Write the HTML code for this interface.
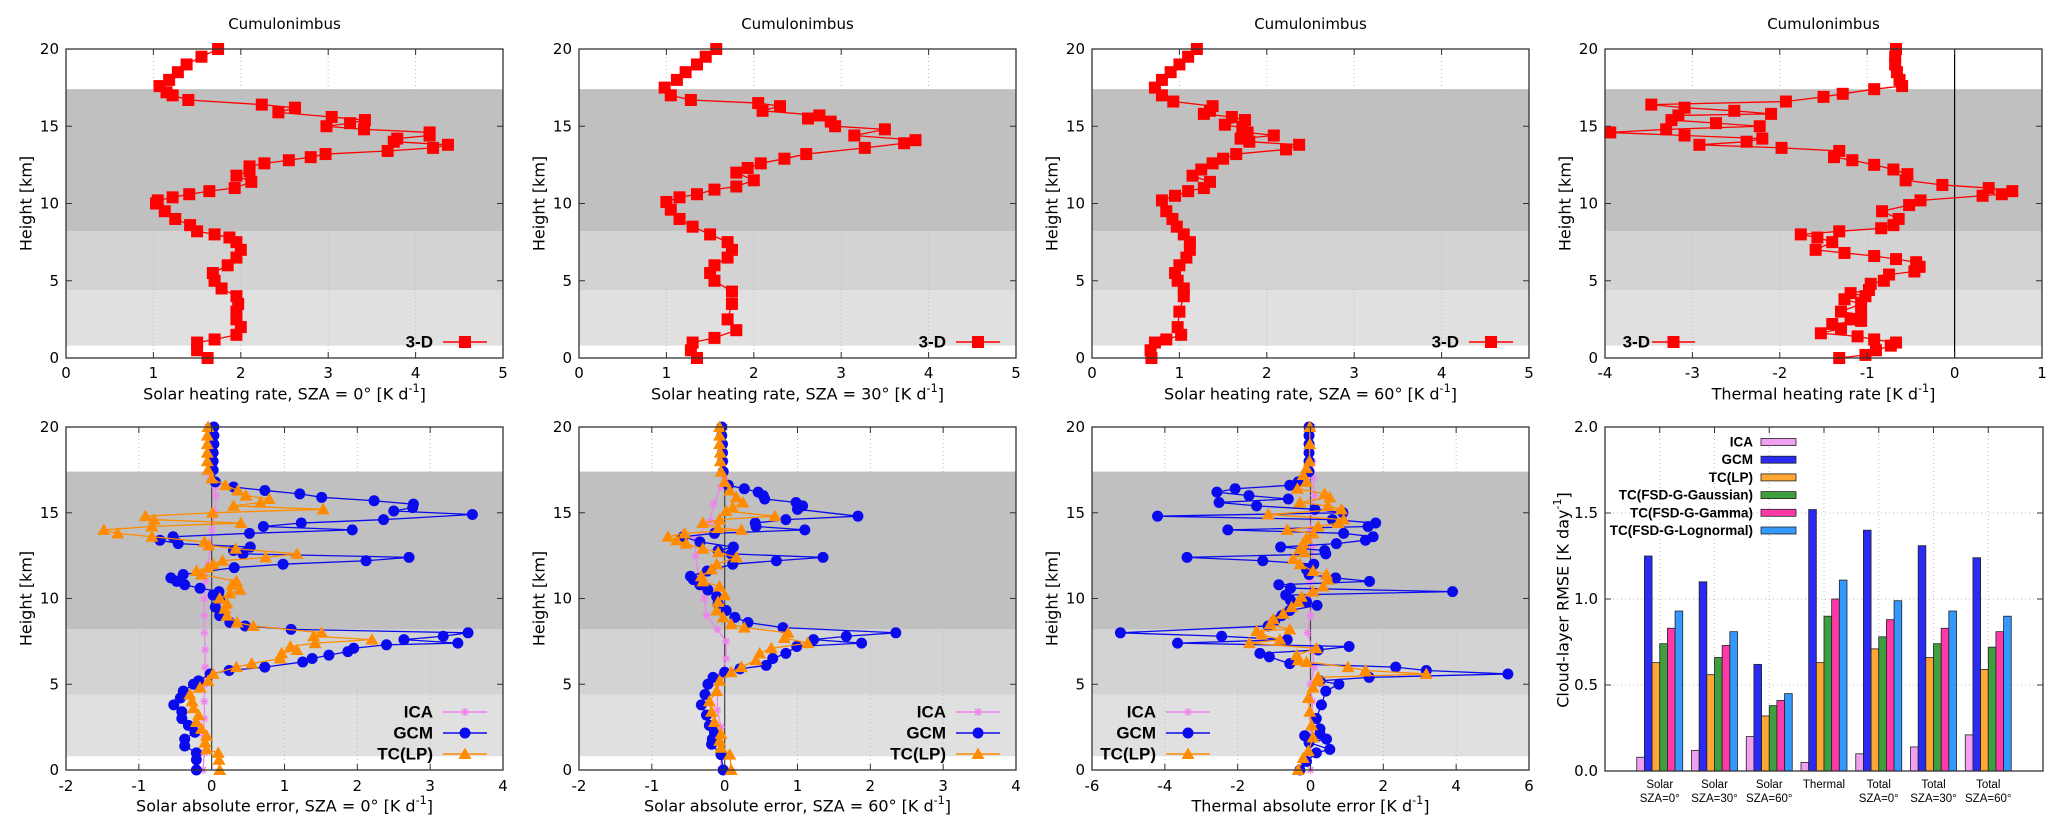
<!DOCTYPE html>
<html><head><meta charset="utf-8"><style>
html,body{margin:0;padding:0;background:#fff}
svg{display:block}
text{font-family:"DejaVu Sans","Liberation Sans",sans-serif;fill:#000}
.leg{font-family:"Liberation Sans",sans-serif;font-weight:bold}
.cat{font-family:"Liberation Sans",sans-serif}
</style></head><body>
<svg id="fig" xmlns="http://www.w3.org/2000/svg" width="2067" height="828" viewBox="0 0 2067 828"></svg>
<script>
// ---------- data ----------
const solar0H=[20,19.5,19,18.5,18,17.6,17.2,17,16.7,16.4,16.2,15.9,15.6,15.4,15.2,15,14.8,14.6,14.4,14.2,14,13.8,13.6,13.4,13.2,13,12.8,12.6,12.4,12.1,11.8,11.4,11,10.8,10.6,10.4,10.2,10,9.5,9,8.6,8.2,8,7.8,7.5,7,6.5,6,5.5,5,4.5,4,3.5,3,2.5,2,1.5,1.2,1,0.5,0];
const solar0X=[1.74,1.55,1.38,1.28,1.18,1.07,1.15,1.22,1.4,2.24,2.62,2.43,3.04,3.42,3.25,2.98,3.41,4.16,4.16,3.79,3.75,4.37,4.2,3.68,2.97,2.8,2.55,2.27,2.1,2.1,1.95,2.12,1.93,1.64,1.41,1.22,1.05,1.03,1.13,1.25,1.42,1.5,1.7,1.87,1.95,2.0,1.95,1.85,1.68,1.7,1.78,1.95,1.97,1.95,1.95,2.0,1.95,1.7,1.5,1.5,1.62];
const solar30H=[20,19.5,19,18.5,18,17.5,17,16.7,16.5,16.3,16,15.7,15.5,15.3,15,14.8,14.4,14.1,13.9,13.6,13.2,12.9,12.6,12.3,12,11.5,11.1,10.9,10.6,10.4,10.1,9.6,9,8.5,8,7.5,7,6.5,6,5.5,5,4.3,3.5,2.5,1.8,1.3,1,0.5,0];
const solar30X=[1.57,1.45,1.35,1.22,1.12,0.98,1.05,1.28,2.05,2.3,2.1,2.75,2.62,2.88,2.93,3.5,3.15,3.85,3.72,3.27,2.6,2.35,2.08,1.93,1.8,2.0,1.8,1.55,1.35,1.15,1.0,1.05,1.15,1.3,1.5,1.7,1.75,1.7,1.55,1.5,1.55,1.75,1.75,1.7,1.8,1.55,1.3,1.28,1.35];
const solar60H=[20,19.5,19,18.5,18,17.5,17,16.6,16.3,16,15.8,15.6,15.4,15.1,14.9,14.6,14.4,14.2,14,13.8,13.5,13.2,12.9,12.6,12.2,11.8,11.4,11,10.8,10.5,10.2,9.5,9,8.5,8,7.5,7,6.5,6,5.5,5,4.5,4,3,2,1.5,1.2,1,0.5,0];
const solar60X=[1.2,1.1,1.0,0.9,0.8,0.72,0.8,0.93,1.38,1.35,1.28,1.6,1.75,1.52,1.72,1.78,2.08,1.7,1.8,2.37,2.22,1.65,1.5,1.38,1.25,1.15,1.35,1.28,1.1,0.95,0.8,0.85,0.92,0.97,1.05,1.12,1.12,1.08,1.0,0.95,0.98,1.05,1.05,1.0,0.98,1.02,0.85,0.72,0.67,0.68];
const thermalH=[20,19.5,19,18.5,18,17.6,17.4,17.1,16.9,16.6,16.4,16.2,16,15.8,15.7,15.4,15.2,15,14.8,14.6,14.4,14.2,14,13.8,13.6,13.4,13,12.8,12.5,12.2,11.9,11.5,11.2,11,10.8,10.6,10.5,10.2,9.9,9.5,9,8.6,8.4,8.2,8,7.8,7.5,7,6.8,6.6,6.4,6.2,5.9,5.6,5.4,5,4.8,4.4,4.2,4,3.8,3.5,3,2.8,2.5,2.4,2.2,1.9,1.6,1.4,1.2,1,0.8,0.5,0.2,0];
const thermalX=[-0.67,-0.68,-0.68,-0.66,-0.63,-0.6,-0.92,-1.28,-1.5,-1.93,-3.47,-3.09,-2.52,-2.1,-3.16,-3.24,-2.73,-2.23,-3.3,-3.94,-3.09,-2.2,-2.38,-2.92,-1.98,-1.32,-1.38,-1.17,-0.92,-0.7,-0.54,-0.56,-0.14,0.39,0.66,0.54,0.32,-0.39,-0.52,-0.83,-0.64,-0.7,-0.84,-1.32,-1.76,-1.57,-1.4,-1.59,-1.26,-0.92,-0.67,-0.44,-0.4,-0.46,-0.75,-0.81,-0.96,-0.98,-1.19,-1.02,-1.26,-1.07,-1.3,-1.07,-1.19,-1.07,-1.4,-1.3,-1.53,-1.11,-0.92,-0.67,-0.73,-0.9,-1.02,-1.32];

const ica0H=[20,18,17,16.5,16,15,14,13,12,11,10,9,8,7,6,5,4,3,2,1,0];
const ica0X=[-0.05,-0.05,-0.02,0.05,0.06,0.05,0.0,-0.02,-0.05,-0.08,-0.1,-0.1,-0.1,-0.09,-0.09,-0.1,-0.1,-0.1,-0.11,-0.1,-0.12];
const gcm0H=[20,19.5,19,18.5,18,17.5,16.8,16.5,16.3,16.1,15.9,15.7,15.5,15.3,15.1,14.9,14.6,14.4,14.2,14,13.8,13.6,13.4,13.2,13,12.8,12.6,12.4,12.2,12,11.8,11.4,11.2,11,10.8,10.6,10.4,10.2,10,9.5,9,8.6,8.4,8.2,8,7.8,7.6,7.4,7.3,7.1,6.9,6.7,6.5,6.3,6,5.8,5.6,5.2,5,4.6,4.2,3.8,3.4,3,2.6,2.2,1.8,1.4,1,0.6,0];
const gcm0X=[0.03,0.03,0.03,0.02,0.02,0.02,0.05,0.3,0.73,1.21,1.51,2.23,2.77,2.76,2.5,3.58,2.36,1.23,0.71,1.93,0.52,-0.53,-0.71,-0.46,0.53,0.3,0.43,2.71,2.12,0.98,0.31,-0.39,-0.56,-0.48,-0.37,-0.16,0.1,0.02,0.11,0.05,0.11,0.25,0.46,1.09,3.52,3.18,2.64,3.38,2.4,1.95,1.87,1.61,1.38,1.25,0.73,0.24,-0.02,-0.18,-0.25,-0.39,-0.43,-0.52,-0.41,-0.41,-0.32,-0.23,-0.37,-0.37,-0.21,-0.21,-0.21];
const tc0H=[20,19.5,19,18.5,18,17.5,17,16.6,16.3,16,15.8,15.6,15.4,15.2,15,14.8,14.6,14.4,14.2,14,13.8,13.6,13.3,13.1,12.9,12.6,12.4,12.2,12,11.8,11.6,11.4,11,10.8,10.5,10.3,10,9.7,9.4,9,8.6,8.4,8,7.8,7.6,7.4,7.2,7,6.8,6.5,6.2,6,5.6,5.2,4.8,4.4,4,3.6,3.2,2.8,2.4,2,1.6,1.2,1,0.6,0];
const tc0X=[-0.05,-0.06,-0.06,-0.06,-0.06,-0.05,0.0,0.19,0.36,0.47,0.79,0.67,0.3,1.53,0.01,-0.91,-0.79,0.4,-0.82,-1.48,-1.29,-0.82,-0.1,-0.04,0.33,1.17,0.74,0.15,0.02,-0.05,-0.21,-0.14,0.34,0.28,0.39,0.25,0.11,0.21,0.18,0.21,0.35,0.57,1.51,1.4,2.2,1.42,1.08,1.17,0.96,0.94,0.55,0.34,0.02,-0.05,-0.16,-0.3,-0.27,-0.25,-0.18,-0.21,-0.14,-0.07,-0.09,-0.07,0.09,0.1,0.11];

const ica60H=[20,18,17,16.5,15.5,14.5,13.5,12.5,11,10,9,8.2,7.5,6.5,5.5,4.5,3.5,2.5,1.5,0];
const ica60X=[0.0,0.0,0.0,-0.05,-0.15,-0.2,-0.4,-0.4,-0.35,-0.28,-0.25,-0.1,0.02,0.02,-0.05,-0.1,-0.1,-0.05,-0.05,-0.05];
const gcm60H=[20,19.5,19,18.5,18,17.4,16.6,16.4,16.2,16,15.8,15.6,15.4,15.2,14.8,14.6,14.4,14.2,14,13.8,13.6,13.3,13,12.8,12.6,12.4,12.2,12,11.6,11.3,11.1,10.8,10.5,10.1,9.7,9.3,8.9,8.6,8.3,8,7.8,7.6,7.4,7.2,6.8,6.5,6.1,5.9,5.7,5.4,5,4.4,3.8,3.2,2.6,2.2,1.8,1.5,0.9,0];
const gcm60X=[-0.04,-0.04,-0.03,-0.03,-0.03,-0.02,0.05,0.27,0.46,0.53,0.55,0.98,1.07,1.0,1.83,0.84,0.42,0.43,1.1,-0.14,-0.57,-0.34,0.12,-0.09,0.09,1.35,0.71,0.11,-0.24,-0.47,-0.43,-0.34,-0.23,-0.11,-0.09,0.02,0.14,0.32,0.8,2.35,1.67,1.22,1.88,0.99,0.84,0.66,0.57,0.21,0.0,-0.16,-0.23,-0.27,-0.32,-0.25,-0.21,-0.14,-0.17,-0.18,-0.05,-0.02];
const tc60H=[20,19.5,19,18.5,18,17.4,16.8,16.3,15.9,15.6,15.3,15.1,14.8,14.6,14.4,14.1,14,13.8,13.6,13.4,13.2,12.9,12.7,12.4,12,11.7,11.3,11,10.7,10.2,9.8,9.3,8.9,8.5,8.3,8,7.7,7.4,7.1,6.8,6.4,6,5.7,5.2,4.6,4,3.4,2.8,2.1,1.7,1.3,0.9,0];
const tc60X=[-0.07,-0.07,-0.07,-0.06,-0.06,-0.05,0.0,0.07,0.16,0.25,0.11,0.02,0.69,-0.07,-0.3,-0.09,0.23,-0.55,-0.78,-0.66,-0.53,-0.3,-0.09,0.16,-0.11,-0.18,-0.32,-0.3,-0.07,0.0,-0.09,-0.11,-0.02,0.09,0.27,0.87,0.82,1.14,0.64,0.48,0.43,0.23,0.09,-0.07,-0.11,-0.21,-0.18,-0.14,-0.05,-0.07,-0.05,0.07,0.09];

const icaThH=[20,18,17,16,15,14,13,12,11,10,9,8,7,6,5,4,3,2,1,0];
const icaThX=[0.05,0.05,0.08,0.1,0.05,0.0,0.05,0.08,0.0,-0.05,0.0,-0.08,0.05,0.1,0.0,0.05,0.05,0.0,0.0,0.0];
const gcmThH=[20,19.5,19,18.5,18,17.4,16.8,16.6,16.4,16.2,16,15.8,15.6,15.4,15.2,15,14.8,14.6,14.4,14.2,14,13.8,13.6,13.4,13.2,13,12.8,12.6,12.4,12.2,12,11.7,11.4,11.2,11,10.8,10.6,10.4,10.2,9.9,9.8,9.6,9.3,9,8.7,8.4,8,7.8,7.6,7.4,7.2,7,6.8,6.6,6.2,6,5.8,5.6,5.4,5.2,5,4.6,3.8,3,2.4,2.1,2,1.8,1.6,1.2,1,0.5,0];
const gcmThX=[-0.04,-0.04,-0.04,-0.04,-0.04,-0.04,-0.34,-0.57,-2.07,-2.57,-1.69,-0.61,-2.51,-1.48,0.12,0.89,-4.2,0.6,1.79,1.58,-2.27,0.91,1.72,1.51,0.71,-0.82,0.39,0.42,-3.39,-1.31,0.09,-0.11,-0.04,0.69,1.62,-0.87,-0.55,3.9,-0.68,-0.55,-0.11,0.18,-0.57,-0.79,-0.98,-1.16,-5.22,-2.44,-0.64,-3.65,1.06,0.21,-1.39,-1.13,-0.57,2.34,3.18,5.42,1.61,0.26,0.78,0.42,0.3,0.16,0.26,0.26,-0.16,0.44,-0.04,0.53,0.16,-0.11,-0.29];
const tcThH=[20,19,18,17.6,17.2,16.8,16.4,16.1,15.9,15.6,15.4,15.2,14.9,14.6,14.4,14.2,14,13.8,13.5,13.2,12.9,12.7,12.3,12,11.6,11.4,11.1,10.7,10.4,10.1,9.8,9.5,9.1,8.8,8.5,8.2,8.1,7.9,7.6,7.4,7.1,6.7,6.4,6.3,6,5.8,5.6,5.4,5.2,4.8,4.2,3.4,2.6,1.9,1.1,0.7,0];
const tcThX=[-0.02,-0.02,-0.03,-0.11,-0.2,-0.11,-0.36,0.39,0.53,-0.29,0.48,0.85,-1.16,0.91,0.76,0.21,-0.64,0.07,-0.11,-0.2,-0.29,-0.16,-0.47,-0.29,0.07,0.44,0.48,0.35,0.07,-0.25,-0.34,-0.52,-0.75,-1.02,-1.11,-0.57,-1.48,-1.34,-0.84,-1.68,0.16,-0.38,-0.34,-0.11,1.03,1.51,3.18,0.21,0.21,0.07,-0.06,-0.02,0.03,0.07,-0.06,-0.2,-0.34];

// bar chart
const barCategories=[["Solar","SZA=0°"],["Solar","SZA=30°"],["Solar","SZA=60°"],["Thermal",""],["Total","SZA=0°"],["Total","SZA=30°"],["Total","SZA=60°"]];
const barSeriesNames=["ICA","GCM","TC(LP)","TC(FSD-G-Gaussian)","TC(FSD-G-Gamma)","TC(FSD-G-Lognormal)"];
const rmseICA=[0.08,0.12,0.20,0.05,0.10,0.14,0.21];
const rmseGCM=[1.25,1.10,0.62,1.52,1.40,1.31,1.24];
const rmseTCLP=[0.63,0.56,0.32,0.63,0.71,0.66,0.59];
const rmseGauss=[0.74,0.66,0.38,0.90,0.78,0.74,0.72];
const rmseGamma=[0.83,0.73,0.41,1.00,0.88,0.83,0.81];
const rmseLogn=[0.93,0.81,0.45,1.11,0.99,0.93,0.90];
const barYTicks=[0,0.5,1.0,1.5,2.0];

// ---------- drawing ----------
const NS="http://www.w3.org/2000/svg";
const svg=document.getElementById('fig');
function mk(tag,attrs,parent){const e=document.createElementNS(NS,tag);for(const k in attrs)e.setAttribute(k,attrs[k]);(parent||svg).appendChild(e);return e;}
function txt(x,y,s,size,anchor,parent,cls){const t=mk('text',{x:x,y:y,'font-size':size,'text-anchor':anchor||'middle','dominant-baseline':'central'},parent);if(cls)t.setAttribute('class',cls);t.textContent=s;return t;}
function unitTitle(x,y,pre,size,parent){
  const t=mk('text',{x:x,y:y,'font-size':size,'text-anchor':'middle','dominant-baseline':'central'},parent);
  t.appendChild(document.createTextNode(pre+' [K d'));
  const s=mk('tspan',{dy:-6,'font-size':size*0.7},t);s.textContent='-1';
  const e=mk('tspan',{dy:6},t);e.textContent=']';
  return t;
}
const lefts=[66,579,1092,1605], W=437;
const TOP={y20:49,y0:358,tick:373,title:394}, BOT={y20:427,y0:770,tick:786,title:806};

function panel(i,row,xmin,xmax,xticks,name){
  const g=mk('g',{});
  
  
  const L=lefts[i], R=L+W, y20=row.y20, y0=row.y0;
  const xs=v=>L+(v-xmin)/(xmax-xmin)*W;
  const ys=h=>y0-h/20*(y0-y20);
  const bands=[[17.4,8.2,'#c0c0c0'],[8.2,4.4,'#d3d3d3'],[4.4,0.8,'#e0e0e0']];
  bands.forEach(b=>{const r=mk('rect',{x:L,y:ys(b[0]),width:W,height:ys(b[1])-ys(b[0]),fill:b[2]},g);
    });
  xticks.forEach(v=>{ if(v>xmin&&v<xmax) mk('line',{x1:xs(v),x2:xs(v),y1:y20,y2:y0,stroke:'#bbb','stroke-width':1,'stroke-dasharray':'1,3'},g);});
  return {g,L,R,y20,y0,xs,ys};
}
function frame(p,xticks,yticks,ylabelFmt,row){
  const g=p.g;
  const fr=mk('rect',{x:p.L,y:p.y20,width:W,height:p.y0-p.y20,fill:'none',stroke:'#333','stroke-width':1.3},g);
  
  xticks.forEach(v=>{const x=p.xs(v);
    mk('line',{x1:x,x2:x,y1:p.y0,y2:p.y0-6,stroke:'#333'},g);mk('line',{x1:x,x2:x,y1:p.y20,y2:p.y20+6,stroke:'#333'},g);
    const t=txt(x,row.tick,String(v),15,'middle',g);});
  yticks.forEach(v=>{const y=p.ys(v);
    mk('line',{x1:p.L,x2:p.L+6,y1:y,y2:y,stroke:'#333'},g);mk('line',{x1:p.R,x2:p.R-6,y1:y,y2:y,stroke:'#333'},g);
    const t=txt(p.L-7,y,ylabelFmt(v),15,'end',g);});
}
function marker(g,type,x,y,color){
  let m;
  if(type==='square') m=mk('rect',{x:x-6,y:y-6,width:12,height:12,fill:color},g);
  else if(type==='circle') m=mk('circle',{cx:x,cy:y,r:5.5,fill:color},g);
  else if(type==='tri') m=mk('polygon',{points:`${x},${y-6.5} ${x+6.5},${y+5} ${x-6.5},${y+5}`,fill:color},g);
  else { m=mk('path',{d:`M${x-4},${y}H${x+4}M${x},${y-4}V${y+4}M${x-3},${y-3}L${x+3},${y+3}M${x-3},${y+3}L${x+3},${y-3}`,stroke:color,'stroke-width':1.3,fill:'none'},g);}
  return m;
}
function series(p,H,X,color,type,name){
  const g=mk('g',{},p.g);
  
  
  const pts=H.map((h,k)=>p.xs(X[k])+','+p.ys(h)).join(' ');
  mk('polyline',{points:pts,fill:'none',stroke:color,'stroke-width':1.3},g);
  H.forEach((h,k)=>{const m=marker(g,type,p.xs(X[k]),p.ys(h),color);
    
    });
}
function legendEntry(parent,textRightX,lineX1,lineX2,y,label,color,type){
  const g=mk('g',{},parent);
  
  
  txt(textRightX,y,label,17,'end',g,'leg');
  mk('line',{x1:lineX1,x2:lineX2,y1:y,y2:y,stroke:color,'stroke-width':1.5},g);
  marker(g,type,(lineX1+lineX2)/2,y,color);
}
const RED='#ff0000',BLUE='#0a0aee',ORANGE='#ff8c00',VIOLET='#ee82ee';
const yT=[0,5,10,15,20];

for(let i=0;i<4;i++){const t=txt(lefts[i]+W/2,24,'Cumulonimbus',15,'middle');}

const topDefs=[
 {xmin:0,xmax:5,xt:[0,1,2,3,4,5],H:solar0H,X:solar0X,title:'Solar heating rate, SZA = 0°'},
 {xmin:0,xmax:5,xt:[0,1,2,3,4,5],H:solar30H,X:solar30X,title:'Solar heating rate, SZA = 30°'},
 {xmin:0,xmax:5,xt:[0,1,2,3,4,5],H:solar60H,X:solar60X,title:'Solar heating rate, SZA = 60°'},
 {xmin:-4,xmax:1,xt:[-4,-3,-2,-1,0,1],H:thermalH,X:thermalX,title:'Thermal heating rate'}
];
topDefs.forEach((d,i)=>{
  const p=panel(i,TOP,d.xmin,d.xmax,d.xt,'heating-rate-panel-'+(i+1));
  if(i===3) mk('line',{x1:p.xs(0),x2:p.xs(0),y1:p.y20,y2:p.y0,stroke:'#000','stroke-width':1.2},p.g);
  series(p,d.H,d.X,RED,'square','series-3d');
  frame(p,d.xt,yT,v=>String(v),TOP);
  const yl=txt(lefts[i]-40,(TOP.y20+TOP.y0)/2,'Height [km]',16,'middle',p.g);
  yl.setAttribute('transform',`rotate(-90 ${lefts[i]-40} ${(TOP.y20+TOP.y0)/2})`);
  
  const xt=unitTitle(lefts[i]+W/2,TOP.title,d.title,16,p.g);
  if(i<3) legendEntry(p.g,lefts[i]+367,lefts[i]+377,lefts[i]+421,342,'3-D',RED,'square');
  else legendEntry(p.g,lefts[i]+45,lefts[i]+47,lefts[i]+90,342,'3-D',RED,'square');
});

const botDefs=[
 {xmin:-2,xmax:4,xt:[-2,-1,0,1,2,3,4],s:[[ica0H,ica0X],[gcm0H,gcm0X],[tc0H,tc0X]],title:'Solar absolute error, SZA = 0°',leg:'right'},
 {xmin:-2,xmax:4,xt:[-2,-1,0,1,2,3,4],s:[[ica60H,ica60X],[gcm60H,gcm60X],[tc60H,tc60X]],title:'Solar absolute error, SZA = 60°',leg:'right'},
 {xmin:-6,xmax:6,xt:[-6,-4,-2,0,2,4,6],s:[[icaThH,icaThX],[gcmThH,gcmThX],[tcThH,tcThX]],title:'Thermal absolute error',leg:'left'}
];
botDefs.forEach((d,i)=>{
  const p=panel(i,BOT,d.xmin,d.xmax,d.xt,'absolute-error-panel-'+(i+1));
  mk('line',{x1:p.xs(0),x2:p.xs(0),y1:p.y20,y2:p.y0,stroke:'#444','stroke-width':1.2},p.g);
  series(p,d.s[0][0],d.s[0][1],VIOLET,'star','series-ica');
  series(p,d.s[1][0],d.s[1][1],BLUE,'circle','series-gcm');
  series(p,d.s[2][0],d.s[2][1],ORANGE,'tri','series-tc-lp');
  frame(p,d.xt,yT,v=>String(v),BOT);
  const yl=txt(lefts[i]-40,(BOT.y20+BOT.y0)/2,'Height [km]',16,'middle',p.g);
  yl.setAttribute('transform',`rotate(-90 ${lefts[i]-40} ${(BOT.y20+BOT.y0)/2})`);
  
  const xt=unitTitle(lefts[i]+W/2,BOT.title,d.title,16,p.g);
  const tr=d.leg==='right'?367:64, l1=d.leg==='right'?377:74, l2=d.leg==='right'?421:118;
  const labs=['ICA','GCM','TC(LP)'],cols=[VIOLET,BLUE,ORANGE],tys=['star','circle','tri'];
  labs.forEach((lb,k)=>legendEntry(p.g,lefts[i]+tr,lefts[i]+l1,lefts[i]+l2,712+k*21,lb,cols[k],tys[k]));
});

(function(){
  const g=mk('g',{});
  
  
  const L=1605,R=2043,Y0=771,Y2=427;
  const xs=c=>L+c/8*(R-L);
  const ys=v=>Y0-v/2*(Y0-Y2);
  const series=[rmseICA,rmseGCM,rmseTCLP,rmseGauss,rmseGamma,rmseLogn];
  const cols=['#f0a0f0','#2a2af2','#ffa733','#3f9f3f','#ff3aa8','#3399ff'];
  barYTicks.forEach(v=>{const y=ys(v);
    if(v>0&&v<2) mk('line',{x1:L,x2:R,y1:y,y2:y,stroke:'#bbb','stroke-dasharray':'1,3'},g);
    mk('line',{x1:L,x2:L+6,y1:y,y2:y,stroke:'#333'},g);mk('line',{x1:R,x2:R-6,y1:y,y2:y,stroke:'#333'},g);
    const t=txt(L-7,y,v.toFixed(1),15,'end',g);});
  barCategories.forEach((c,k)=>{const x=xs(k+1);
    mk('line',{x1:x,x2:x,y1:Y2,y2:Y0,stroke:'#bbb','stroke-dasharray':'1,3'},g);
    mk('line',{x1:x,x2:x,y1:Y0,y2:Y0-6,stroke:'#333'},g);mk('line',{x1:x,x2:x,y1:Y2,y2:Y2+6,stroke:'#333'},g);
    const t1=txt(x,785,c[0],11.5,'middle',g,'cat');
    if(c[1]){const t2=txt(x,799,c[1],11.5,'middle',g,'cat');}
  });
  const bw=0.14;
  series.forEach((s,j)=>{
    s.forEach((v,k)=>{
      const c=k+1+(j-2.5)*bw;
      const b=mk('rect',{x:xs(c-bw/2),y:ys(v),width:xs(bw)-xs(0),height:Y0-ys(v),fill:cols[j],stroke:'#222','stroke-width':0.8},g);
      
      
    });
  });
  const fr=mk('rect',{x:L,y:Y2,width:R-L,height:Y0-Y2,fill:'none',stroke:'#333','stroke-width':1.3},g);
  
  barSeriesNames.forEach((n,j)=>{
    const y=442+j*17.7;
    const lg=mk('g',{},g);
    
    
    txt(1753,y,n,13.5,'end',lg,'leg');
    mk('rect',{x:1761,y:y-3.5,width:35,height:7,fill:cols[j],stroke:'#222','stroke-width':0.8},lg);
  });
  const yl=mk('text',{x:1563,y:600,'font-size':16,'text-anchor':'middle','dominant-baseline':'central',transform:'rotate(-90 1563 600)'},g);
  
  yl.appendChild(document.createTextNode('Cloud-layer RMSE [K day'));
  const s=mk('tspan',{dy:-6,'font-size':11},yl);s.textContent='-1';
  const e=mk('tspan',{dy:6},yl);e.textContent=']';
})();
</script>
</body></html>
